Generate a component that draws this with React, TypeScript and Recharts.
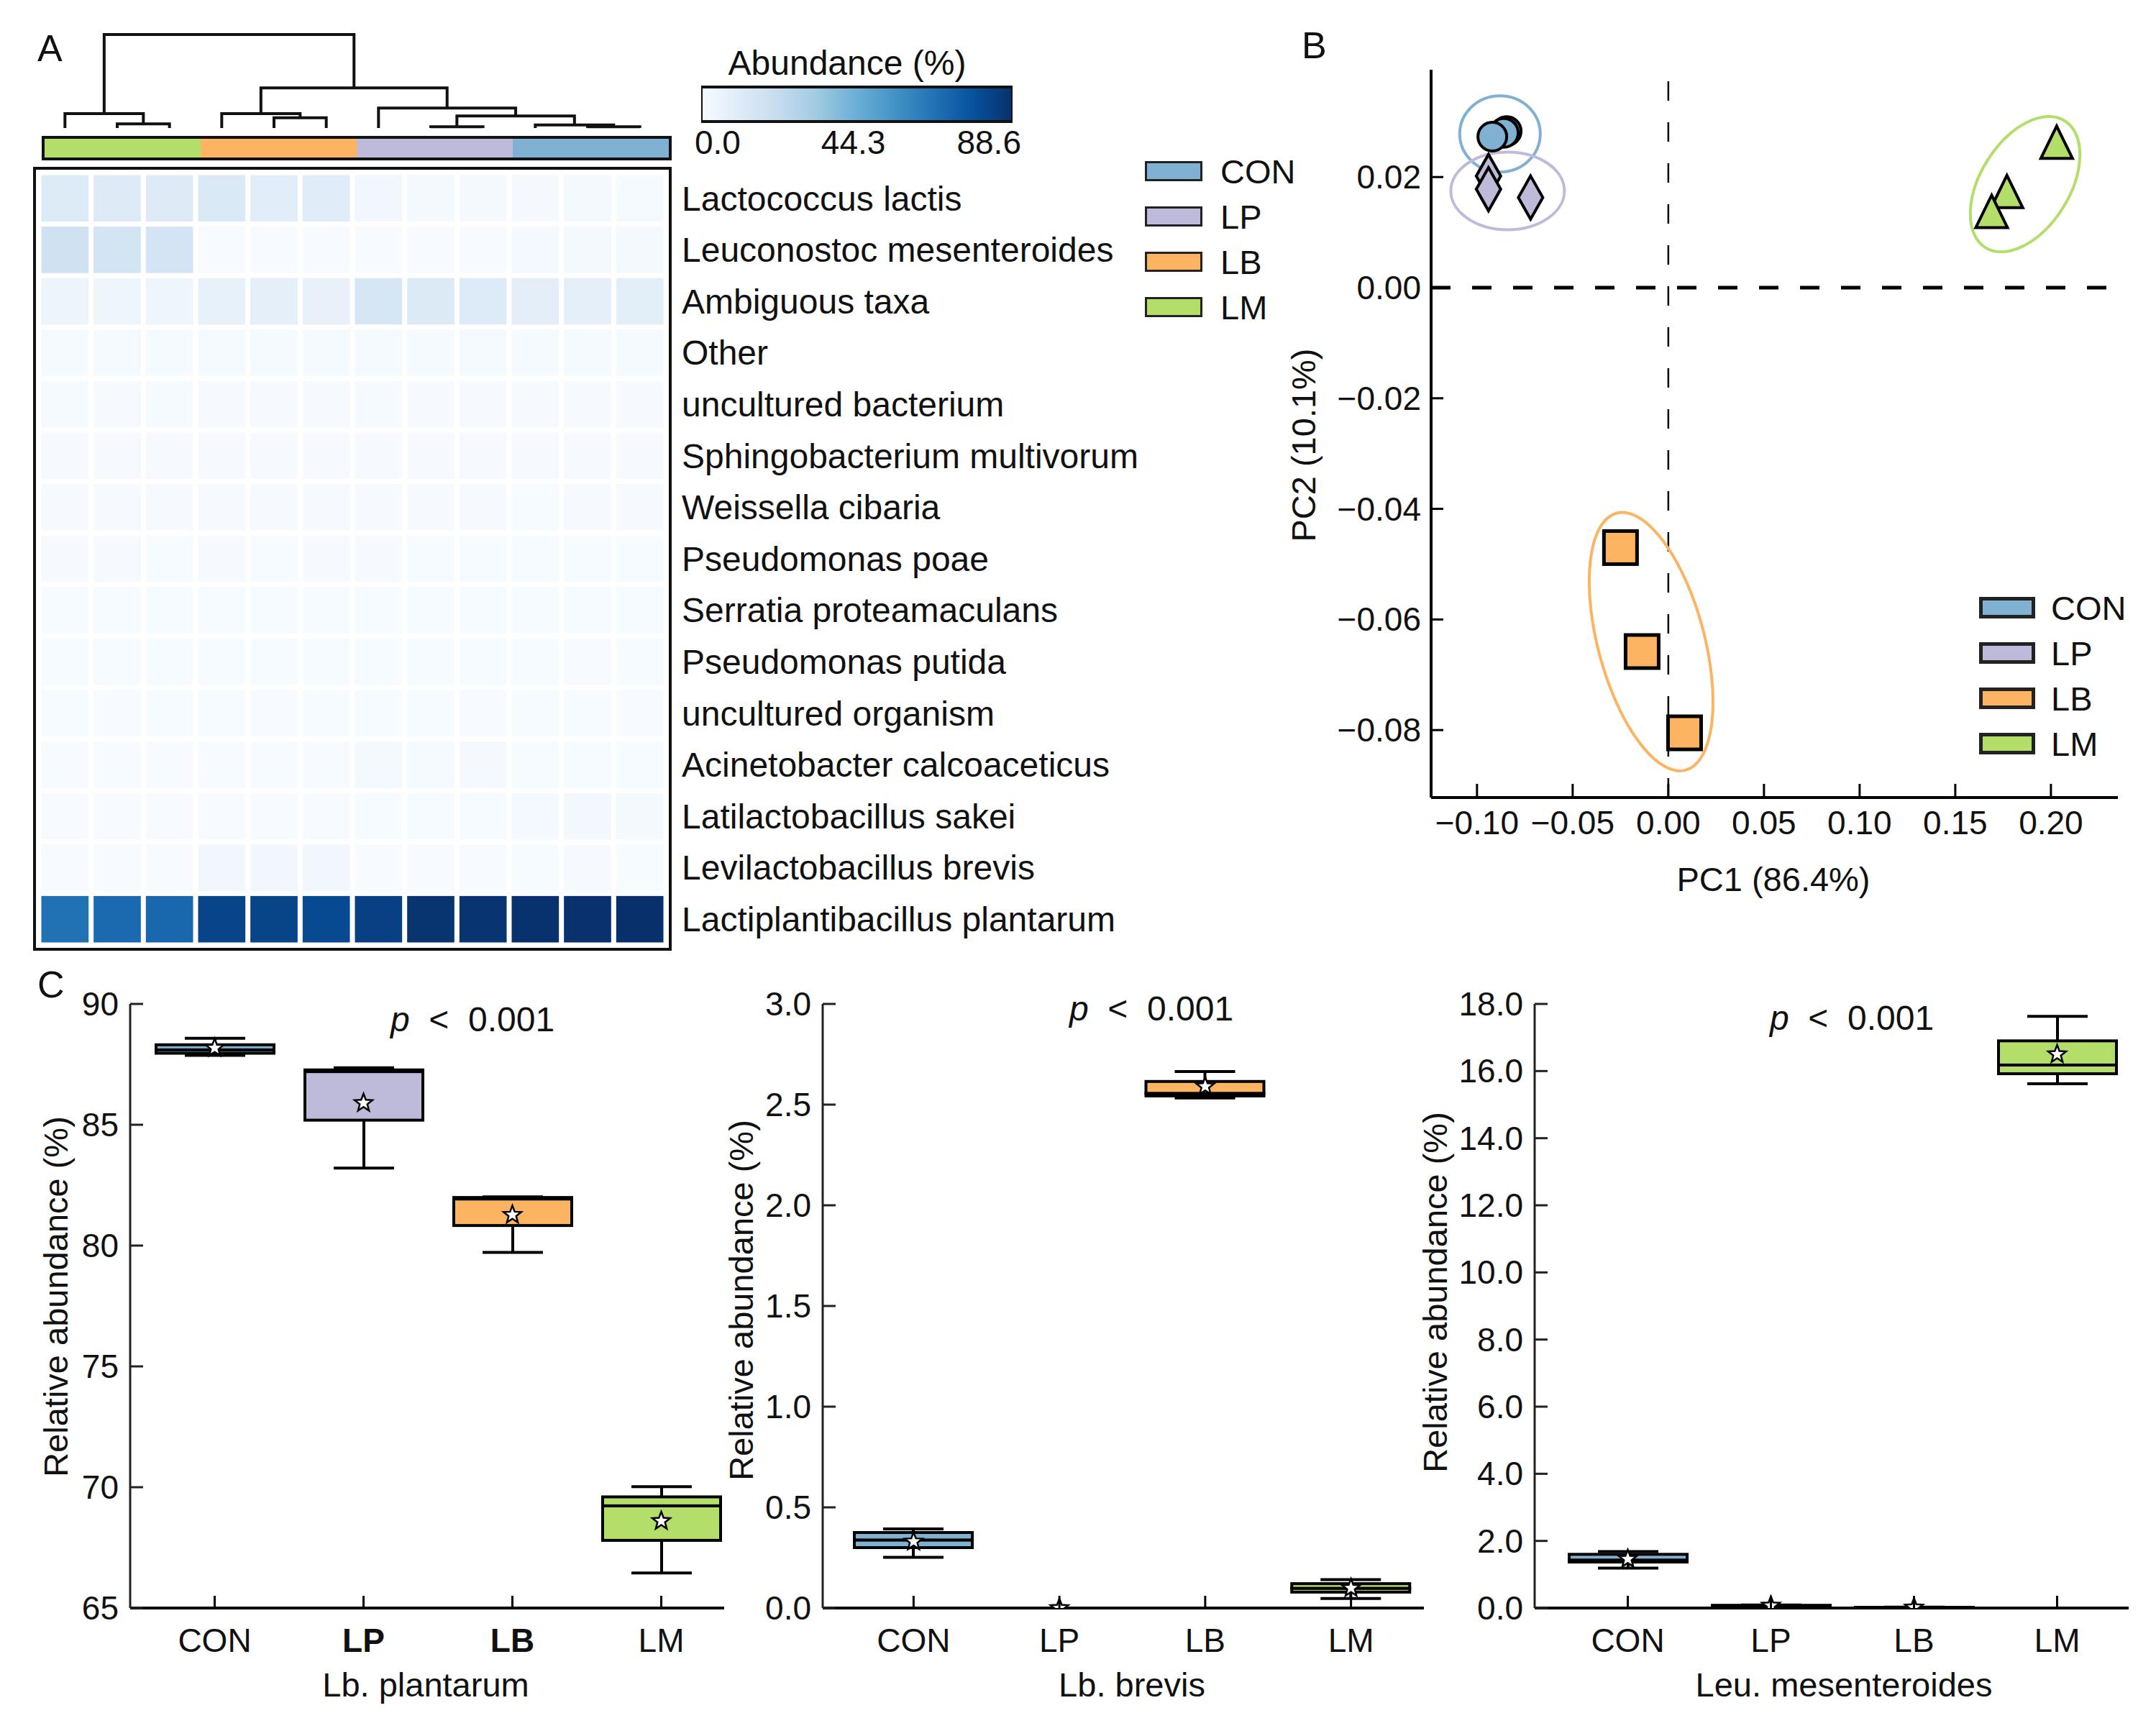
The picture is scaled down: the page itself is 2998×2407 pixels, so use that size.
import React from "react";
import {
  BarChart,
  Bar,
  ComposedChart,
  Line,
  Scatter,
  ScatterChart,
  XAxis,
  YAxis,
  ReferenceLine,
} from "recharts";

const FONT = '"Liberation Sans", Arial, Helvetica, sans-serif';
const INK = "#111";

// ---------- groups ----------
const groups = ["CON", "LP", "LB", "LM"];
const groupColor: Record<string, string> = {
  CON: "#80b1d3",
  LP: "#bebada",
  LB: "#fdb462",
  LM: "#b3de69",
};

// ---------- panel A: heatmap ----------
const taxa = [
  "Lactococcus lactis",
  "Leuconostoc mesenteroides",
  "Ambiguous taxa",
  "Other",
  "uncultured bacterium",
  "Sphingobacterium multivorum",
  "Weissella cibaria",
  "Pseudomonas poae",
  "Serratia proteamaculans",
  "Pseudomonas putida",
  "uncultured organism",
  "Acinetobacter calcoaceticus",
  "Latilactobacillus sakei",
  "Levilactobacillus brevis",
  "Lactiplantibacillus plantarum",
];
const sampleGroups = ["LM", "LM", "LM", "LB", "LB", "LB", "LP", "LP", "LP", "CON", "CON", "CON"];

const lactococcusLactis = [11.4, 10.9, 11.0, 12.8, 9.6, 10.4, 2.6, 1.3, 1.2, 1.1, 1.2, 1.0];
const leuconostocMesenteroides = [17.63, 16.18, 15.62, 0.02, 0.01, 0.02, 0.06, 0.05, 0.08, 1.68, 1.43, 1.19];
const ambiguousTaxa = [4.6, 3.8, 4.1, 7.2, 8.3, 6.6, 14.6, 11.8, 11.6, 9.0, 8.6, 9.2];
const otherTaxa = [1.0, 0.9, 1.0, 0.9, 0.8, 0.9, 1.0, 0.9, 0.8, 0.8, 0.7, 0.8];
const unculturedBacterium = [0.7, 0.6, 0.7, 0.6, 0.6, 0.6, 0.7, 0.6, 0.6, 0.5, 0.5, 0.6];
const sphingobacterium = [0.5, 0.5, 0.4, 0.5, 0.4, 0.5, 0.5, 0.4, 0.4, 0.4, 0.4, 0.5];
const weissella = [0.5, 0.4, 0.4, 0.4, 0.4, 0.4, 0.4, 0.4, 0.4, 0.3, 0.4, 0.4];
const pseudomonasPoae = [0.4, 0.4, 0.3, 0.4, 0.3, 0.4, 0.4, 0.3, 0.3, 0.3, 0.3, 0.3];
const serratia = [0.3, 0.3, 0.3, 0.3, 0.3, 0.3, 0.3, 0.3, 0.3, 0.3, 0.3, 0.3];
const pseudomonasPutida = [0.3, 0.3, 0.3, 0.3, 0.3, 0.3, 0.3, 0.3, 0.3, 0.3, 0.2, 0.3];
const unculturedOrganism = [0.3, 0.2, 0.3, 0.3, 0.2, 0.3, 0.3, 0.3, 0.2, 0.3, 0.3, 0.2];
const acinetobacter = [0.2, 0.2, 0.2, 0.2, 0.2, 0.2, 1.3, 0.9, 1.1, 0.3, 0.3, 0.3];
const latilactobacillus = [0.2, 0.2, 0.2, 0.2, 0.2, 0.2, 0.3, 0.3, 0.3, 1.6, 1.9, 1.4];
const levilactobacillus = [0.047, 0.098, 0.141, 2.556, 2.664, 2.533, 0, 0, 0, 0.338, 0.393, 0.252];
const lactiplantibacillus = [66.45, 69.23, 70.02, 81.93, 82.02, 79.72, 83.21, 87.36, 87.2, 87.87, 88.1, 88.58];

const abundanceRows = [
  lactococcusLactis,
  leuconostocMesenteroides,
  ambiguousTaxa,
  otherTaxa,
  unculturedBacterium,
  sphingobacterium,
  weissella,
  pseudomonasPoae,
  serratia,
  pseudomonasPutida,
  unculturedOrganism,
  acinetobacter,
  latilactobacillus,
  levilactobacillus,
  lactiplantibacillus,
];

const abundanceTicks = [0, 44.3, 88.6];
const colorKeySpan = [-5.4, 96.3];

// dendrogram merges: [left node, right node, height]
const dendroMerges: [number, number, number][] = [
  [1, 2, 17],
  [0, 12, 60],
  [4, 5, 43],
  [3, 14, 60],
  [7, 8, 5],
  [10, 11, 5],
  [9, 17, 13],
  [16, 18, 50],
  [6, 19, 83],
  [15, 20, 167],
  [13, 21, 390],
];

// ---------- panel B: PCA ----------
const conPC1 = [-0.0845, -0.086, -0.092];
const conPC2 = [0.0283, 0.028, 0.0273];
const lpPC1 = [-0.094, -0.094, -0.072];
const lpPC2 = [0.0202, 0.0178, 0.0163];
const lbPC1 = [-0.025, -0.0137, 0.0085];
const lbPC2 = [-0.047, -0.0658, -0.0805];
const lmPC1 = [0.203, 0.177, 0.169];
const lmPC2 = [0.0257, 0.0168, 0.0132];

const ellipseGroups = ["CON", "LP", "LM", "LB"];
const ellipsePC1 = [-0.088, -0.084, 0.1865, -0.009];
const ellipsePC2 = [0.0278, 0.0175, 0.0187, -0.064];

const pcaXTicks = [-0.1, -0.05, 0, 0.05, 0.1, 0.15, 0.2];
const pcaYTicks = [-0.08, -0.06, -0.04, -0.02, 0, 0.02];

// ---------- panel C: box plots [min, q1, median, q3, max] ----------
const plantarumBox = [
  [87.87, 87.96, 88.1, 88.31, 88.58],
  [83.21, 85.19, 87.2, 87.27, 87.36],
  [79.72, 80.83, 81.93, 81.99, 82.02],
  [66.45, 67.8, 69.23, 69.6, 70.02],
];
const plantarumMean = [88.18, 85.9, 81.27, 68.6];
const plantarumTicks = [65, 70, 75, 80, 85, 90];

const brevisBox = [
  [0.252, 0.3, 0.338, 0.375, 0.393],
  [0, 0, 0, 0, 0],
  [2.533, 2.543, 2.556, 2.615, 2.664],
  [0.047, 0.079, 0.098, 0.121, 0.141],
];
const brevisMean = [0.33, 0, 2.59, 0.099];
const brevisTicks = [0, 0.5, 1, 1.5, 2, 2.5, 3];

const mesenteroidesBox = [
  [1.19, 1.37, 1.43, 1.6, 1.68],
  [0.03, 0.05, 0.07, 0.08, 0.09],
  [0.005, 0.01, 0.015, 0.02, 0.025],
  [15.62, 15.92, 16.18, 16.9, 17.63],
];
const mesenteroidesMean = [1.46, 0.07, 0.015, 16.5];
const mesenteroidesTicks = [0, 2, 4, 6, 8, 10, 12, 14, 16, 18];

// ---------- helpers ----------
const blues = ["#f7fbff", "#deebf7", "#c6dbef", "#9ecae1", "#6baed6", "#4292c6", "#2171b5", "#08519c", "#08306b"];

function hexToRgb(h: string) {
  return [1, 3, 5].map((i) => parseInt(h.slice(i, i + 2), 16));
}

function bluesColor(v: number) {
  const t = Math.max(0, Math.min(1, v / abundanceTicks[2]));
  const pos = t * (blues.length - 1);
  const i = Math.min(Math.floor(pos), blues.length - 2);
  const f = pos - i;
  const a = hexToRgb(blues[i]);
  const b = hexToRgb(blues[i + 1]);
  const c = a.map((x, k) => Math.round(x + (b[k] - x) * f));
  return `rgb(${c[0]},${c[1]},${c[2]})`;
}

function fmtSigned(v: number, d: number) {
  const s = Math.abs(v).toFixed(d);
  return v < 0 ? "\u2212" + s : s;
}

function Txt({
  x,
  y,
  size = 46,
  anchor = "start",
  rotate = 0,
  weight = 400,
  children,
}: {
  x: number;
  y: number;
  size?: number;
  anchor?: "start" | "middle" | "end";
  rotate?: number;
  weight?: number;
  children: React.ReactNode;
}) {
  const tx = anchor === "start" ? "0" : anchor === "middle" ? "-50%" : "-100%";
  return (
    <div
      style={{
        position: "absolute",
        left: x,
        top: y,
        fontSize: size,
        fontWeight: weight,
        lineHeight: 1,
        whiteSpace: "nowrap",
        transform: `translate(${tx}, -50%) rotate(${rotate}deg)`,
      }}
    >
      {children}
    </div>
  );
}

function LegendBoxes({ x, y0, step, textX, boxW, boxH, border }: any) {
  return (
    <>
      {groups.map((g, i) => (
        <React.Fragment key={g}>
          <div
            style={{
              position: "absolute",
              left: x,
              top: y0 + i * step - boxH / 2,
              width: boxW,
              height: boxH,
              boxSizing: "border-box",
              border: `${border}px solid #222`,
              background: groupColor[g],
            }}
          />
          <Txt x={textX} y={y0 + i * step} size={47}>
            {g}
          </Txt>
        </React.Fragment>
      ))}
    </>
  );
}

// ---------- panel A ----------
const HEAT_W = 872;
const HEAT_H = 1074;
const CELL_W = HEAT_W / sampleGroups.length - 7;
const CELL_H = HEAT_H / taxa.length - 7;

function HeatCell(p: any) {
  return (
    <rect
      x={p.cx - CELL_W / 2}
      y={p.cy - CELL_H / 2}
      width={CELL_W}
      height={CELL_H}
      fill={bluesColor(p.payload.value)}
    />
  );
}

function TaxonTick(p: any) {
  return (
    <text x={p.x + 22} y={p.y} dy="0.35em" textAnchor="start" fontSize={48} fontFamily={FONT} fill={INK}>
      {taxa[p.payload.value]}
    </text>
  );
}

function ColorKeyTick(p: any) {
  return (
    <text x={p.x} y={p.y + 29} dy="0.35em" textAnchor="middle" fontSize={46} fontFamily={FONT} fill={INK}>
      {p.payload.value.toFixed(1)}
    </text>
  );
}

function buildDendrogram() {
  const xs = sampleGroups.map((_, i) => i);
  const hs = sampleGroups.map(() => 0);
  return dendroMerges.map(([a, b, h]) => {
    const seg = [
      { x: xs[a], y: hs[a] },
      { x: xs[a], y: h },
      { x: xs[b], y: h },
      { x: xs[b], y: hs[b] },
    ];
    xs.push((xs[a] + xs[b]) / 2);
    hs.push(h);
    return seg;
  });
}

function HeatmapPanel() {
  const cells = abundanceRows.flatMap((row, r) => row.map((value, c) => ({ col: c, row: r, value })));
  const links = buildDendrogram();
  const stripOrder = ["LM", "LB", "LP", "CON"];
  const stripRow: Record<string, any> = { name: "groups" };
  stripOrder.forEach((g) => (stripRow[g] = sampleGroups.filter((s) => s === g).length));

  return (
    <>
      {/* dendrogram */}
      <div style={{ position: "absolute", left: 54, top: 40 }}>
        <ComposedChart width={HEAT_W} height={140} margin={{ top: 8, right: 0, bottom: 2, left: 0 }}>
          <XAxis type="number" dataKey="x" domain={[-0.5, 11.5]} hide allowDataOverflow />
          <YAxis type="number" domain={[0, 390]} hide />
          {links.map((d, i) => (
            <Line
              key={i}
              data={d}
              dataKey="y"
              type="linear"
              stroke={INK}
              strokeWidth={4}
              dot={false}
              activeDot={false}
              isAnimationActive={false}
            />
          ))}
        </ComposedChart>
      </div>

      {/* group colour strip */}
      <div
        style={{
          position: "absolute",
          left: 58,
          top: 189,
          width: 876,
          height: 34,
          boxSizing: "border-box",
          border: "4px solid #111",
        }}
      >
        <BarChart
          layout="vertical"
          width={868}
          height={26}
          data={[stripRow]}
          margin={{ top: 0, right: 0, bottom: 0, left: 0 }}
          barCategoryGap={0}
        >
          <XAxis type="number" domain={[0, sampleGroups.length]} hide />
          <YAxis type="category" dataKey="name" hide />
          {stripOrder.map((g) => (
            <Bar key={g} dataKey={g} stackId="s" fill={groupColor[g]} isAnimationActive={false} />
          ))}
        </BarChart>
      </div>

      {/* heatmap border */}
      <div
        style={{
          position: "absolute",
          left: 46,
          top: 232,
          width: 888,
          height: 1090,
          boxSizing: "border-box",
          border: "4px solid #111",
        }}
      />
      <div style={{ position: "absolute", left: 50, top: 236 }}>
        <ScatterChart width={1560} height={1082} margin={{ top: 4, right: 0, bottom: 4, left: 4 }}>
          <XAxis type="number" dataKey="col" domain={[-0.5, 11.5]} hide />
          <YAxis
            type="number"
            dataKey="row"
            orientation="right"
            domain={[-0.5, 14.5]}
            reversed
            ticks={taxa.map((_, i) => i)}
            interval={0}
            width={684}
            axisLine={false}
            tickLine={false}
            tickSize={0}
            tickMargin={0}
            tick={<TaxonTick />}
          />
          <Scatter data={cells} shape={<HeatCell />} isAnimationActive={false} />
        </ScatterChart>
      </div>

      {/* abundance colour key */}
      <Txt x={1178} y={88} size={48} anchor="middle">
        Abundance (%)
      </Txt>
      <div style={{ position: "absolute", left: 937, top: 115 }}>
        <BarChart
          layout="vertical"
          width={509}
          height={112}
          data={[{ name: "key", span: colorKeySpan }]}
          margin={{ top: 6, right: 38, bottom: 0, left: 38 }}
          barCategoryGap={0}
        >
          <defs>
            <linearGradient id="bluesGrad" x1="0" y1="0" x2="1" y2="0">
              {blues.map((c, i) => (
                <stop key={c} offset={`${(i / (blues.length - 1)) * 100}%`} stopColor={c} />
              ))}
            </linearGradient>
          </defs>
          <XAxis
            type="number"
            domain={colorKeySpan}
            ticks={abundanceTicks}
            interval={0}
            height={58}
            axisLine={false}
            tickLine={false}
            tickSize={0}
            tickMargin={0}
            allowDataOverflow
            tick={<ColorKeyTick />}
          />
          <YAxis type="category" dataKey="name" hide />
          <Bar dataKey="span" fill="url(#bluesGrad)" stroke="#111" strokeWidth={4} isAnimationActive={false} />
        </BarChart>
      </div>

      <LegendBoxes x={1592} y0={238} step={63} textX={1697} boxW={80} boxH={28} border={3} />
    </>
  );
}

// ---------- panel B ----------
const PCA_ELLIPSE: Record<string, { rx: number; ry: number; rot: number }> = {
  CON: { rx: 56, ry: 53, rot: 0 },
  LP: { rx: 79, ry: 54, rot: 0 },
  LM: { rx: 104, ry: 62, rot: -58 },
  LB: { rx: 185, ry: 74, rot: 75 },
};

function EllipseShape(p: any) {
  const e = PCA_ELLIPSE[p.payload.group];
  return (
    <ellipse
      cx={p.cx}
      cy={p.cy}
      rx={e.rx}
      ry={e.ry}
      transform={`rotate(${e.rot} ${p.cx} ${p.cy})`}
      fill="none"
      stroke={groupColor[p.payload.group]}
      strokeWidth={4}
    />
  );
}

function CircleMark(p: any) {
  return <circle cx={p.cx} cy={p.cy} r={20} fill={groupColor.CON} stroke="#000" strokeWidth={4} />;
}
function DiamondMark(p: any) {
  const { cx, cy } = p;
  return (
    <path
      d={`M${cx},${cy - 30} L${cx + 17},${cy} L${cx},${cy + 30} L${cx - 17},${cy} Z`}
      fill={groupColor.LP}
      stroke="#000"
      strokeWidth={4}
      strokeLinejoin="miter"
    />
  );
}
function TriangleMark(p: any) {
  const { cx, cy } = p;
  return (
    <path
      d={`M${cx},${cy - 27} L${cx + 22},${cy + 18} L${cx - 22},${cy + 18} Z`}
      fill={groupColor.LM}
      stroke="#000"
      strokeWidth={4}
    />
  );
}
function SquareMark(p: any) {
  return (
    <rect x={p.cx - 23} y={p.cy - 23} width={46} height={46} fill={groupColor.LB} stroke="#000" strokeWidth={5} />
  );
}

function PcaXTick(p: any) {
  return (
    <g>
      <line x1={p.x} x2={p.x} y1={p.y} y2={p.y - 19} stroke="#000" strokeWidth={3} />
      <text x={p.x} y={p.y + 35} dy="0.35em" textAnchor="middle" fontSize={46} fontFamily={FONT} fill={INK}>
        {fmtSigned(p.payload.value, 2)}
      </text>
    </g>
  );
}
function PcaYTick(p: any) {
  return (
    <g>
      <line x1={p.x} x2={p.x + 17} y1={p.y} y2={p.y} stroke="#000" strokeWidth={3} />
      <text x={p.x - 14} y={p.y} dy="0.35em" textAnchor="end" fontSize={46} fontFamily={FONT} fill={INK}>
        {fmtSigned(p.payload.value, 2)}
      </text>
    </g>
  );
}

const toPoints = (xs: number[], ys: number[]) => xs.map((x, i) => ({ x, y: ys[i] }));

function PcaPanel() {
  const ellipses = ellipseGroups.map((g, i) => ({ group: g, x: ellipsePC1[i], y: ellipsePC2[i] }));
  return (
    <>
      <div style={{ position: "absolute", left: 1800, top: 60 }}>
        <ScatterChart width={1180} height={1160} margin={{ top: 37, right: 35, bottom: 31, left: 40 }}>
          <XAxis
            type="number"
            dataKey="x"
            domain={[-0.124, 0.235]}
            ticks={pcaXTicks}
            interval={0}
            allowDataOverflow
            height={80}
            axisLine={{ stroke: "#000", strokeWidth: 4 }}
            tickLine={false}
            tickSize={0}
            tickMargin={0}
            tick={<PcaXTick />}
          />
          <YAxis
            type="number"
            dataKey="y"
            domain={[-0.0922, 0.0394]}
            ticks={pcaYTicks}
            interval={0}
            allowDataOverflow
            width={150}
            axisLine={{ stroke: "#000", strokeWidth: 4 }}
            tickLine={false}
            tickSize={0}
            tickMargin={0}
            tick={<PcaYTick />}
          />
          <ReferenceLine x={0} stroke="#000" strokeWidth={2.5} strokeDasharray="27 30" />
          <ReferenceLine y={0} stroke="#000" strokeWidth={5} strokeDasharray="27 30" />
          <Scatter data={ellipses} shape={<EllipseShape />} isAnimationActive={false} />
          <Scatter data={toPoints(lpPC1, lpPC2)} shape={<DiamondMark />} isAnimationActive={false} />
          <Scatter data={toPoints(conPC1, conPC2)} shape={<CircleMark />} isAnimationActive={false} />
          <Scatter data={toPoints(lmPC1, lmPC2)} shape={<TriangleMark />} isAnimationActive={false} />
          <Scatter data={toPoints(lbPC1, lbPC2)} shape={<SquareMark />} isAnimationActive={false} />
        </ScatterChart>
      </div>
      <Txt x={2466} y={1222} size={47} anchor="middle">
        PC1 (86.4%)
      </Txt>
      <Txt x={1812} y={619} size={47} anchor="middle" rotate={-90}>
        PC2 (10.1%)
      </Txt>
      <LegendBoxes x={2752} y0={845} step={63} textX={2852} boxW={78} boxH={30} border={5} />
    </>
  );
}

// ---------- panel C ----------
const CAP = 84;

function WhiskerShape(upper: boolean) {
  return (p: any) => {
    const cx = p.x + p.width / 2;
    const h = Math.max(p.height || 0, 0);
    const capY = upper ? p.y : p.y + h;
    return (
      <g>
        <line x1={cx} x2={cx} y1={p.y} y2={p.y + h} stroke="#000" strokeWidth={4} />
        <line x1={cx - CAP / 2} x2={cx + CAP / 2} y1={capY} y2={capY} stroke="#000" strokeWidth={4} />
      </g>
    );
  };
}
const LowerWhisker = WhiskerShape(false);
const UpperWhisker = WhiskerShape(true);

function BoxPart(p: any) {
  return (
    <rect
      x={p.x}
      y={p.y}
      width={p.width}
      height={Math.max(p.height || 0, 0)}
      fill={groupColor[p.payload.group]}
      stroke="#000"
      strokeWidth={4}
    />
  );
}

function StarMark(p: any) {
  const pts: string[] = [];
  for (let k = 0; k < 10; k++) {
    const r = k % 2 === 0 ? 13 : 5.5;
    const a = -Math.PI / 2 + (k * Math.PI) / 5;
    pts.push(`${p.cx + r * Math.cos(a)},${p.cy + r * Math.sin(a)}`);
  }
  return <polygon points={pts.join(" ")} fill="#fff" stroke="#000" strokeWidth={2.5} />;
}

type BoxCfg = {
  title: string;
  box: number[][];
  mean: number[];
  ticks: number[];
  digits: number;
  left: number;
  width: number;
  yAxisWidth: number;
  right: number;
  padLeft: number;
  padRight: number;
  bold: string[];
  pX: number;
  pY: number;
  titleX: number;
  yLabelX: number;
  yLabelY: number;
};

const boxPanels: BoxCfg[] = [
  {
    title: "Lb. plantarum",
    box: plantarumBox,
    mean: plantarumMean,
    ticks: plantarumTicks,
    digits: 0,
    left: 20,
    width: 1000,
    yAxisWidth: 150,
    right: 13,
    padLeft: 14,
    padRight: -16,
    bold: ["LP", "LB"],
    pX: 657,
    pY: 1418,
    titleX: 592,
    yLabelX: 77,
    yLabelY: 1803,
  },
  {
    title: "Lb. brevis",
    box: brevisBox,
    mean: brevisMean,
    ticks: brevisTicks,
    digits: 1,
    left: 1030,
    width: 960,
    yAxisWidth: 103,
    right: 10,
    padLeft: 25,
    padRight: 0,
    bold: [],
    pX: 1601,
    pY: 1403,
    titleX: 1574,
    yLabelX: 1030,
    yLabelY: 1808,
  },
  {
    title: "Leu. mesenteroides",
    box: mesenteroidesBox,
    mean: mesenteroidesMean,
    ticks: mesenteroidesTicks,
    digits: 1,
    left: 1960,
    width: 1030,
    yAxisWidth: 163,
    right: 30,
    padLeft: 30,
    padRight: 0,
    bold: [],
    pX: 2575,
    pY: 1416,
    titleX: 2564,
    yLabelX: 1995,
    yLabelY: 1797,
  },
];

function BoxPanel({ cfg }: { cfg: BoxCfg }) {
  const data = groups.map((g, i) => {
    const b = cfg.box[i];
    return {
      group: g,
      base: b[0],
      lw: b[1] - b[0],
      lb: b[2] - b[1],
      ub: b[3] - b[2],
      uw: b[4] - b[3],
      mean: cfg.mean[i],
    };
  });
  const domain = [cfg.ticks[0], cfg.ticks[cfg.ticks.length - 1]];

  const xTick = (p: any) => (
    <g>
      <line x1={p.x} x2={p.x} y1={p.y} y2={p.y - 17} stroke="#000" strokeWidth={3} />
      <text
        x={p.x}
        y={p.y + 45}
        dy="0.35em"
        textAnchor="middle"
        fontSize={46}
        fontWeight={cfg.bold.includes(p.payload.value) ? 700 : 400}
        fontFamily={FONT}
        fill={INK}
      >
        {p.payload.value}
      </text>
    </g>
  );
  const yTick = (p: any) => (
    <g>
      <line x1={p.x} x2={p.x + 18} y1={p.y} y2={p.y} stroke="#222" strokeWidth={3} />
      <text x={p.x - 16} y={p.y} dy="0.35em" textAnchor="end" fontSize={46} fontFamily={FONT} fill={INK}>
        {p.payload.value.toFixed(cfg.digits)}
      </text>
    </g>
  );

  return (
    <>
      <div style={{ position: "absolute", left: cfg.left, top: 1370 }}>
        <ComposedChart
          width={cfg.width}
          height={1030}
          data={data}
          margin={{ top: 26, right: cfg.right, bottom: 64, left: 11 }}
        >
          <XAxis
            dataKey="group"
            type="category"
            padding={{ left: cfg.padLeft, right: cfg.padRight }}
            height={100}
            interval={0}
            axisLine={{ stroke: "#000", strokeWidth: 4 }}
            tickLine={false}
            tickSize={0}
            tickMargin={0}
            tick={xTick}
          />
          <YAxis
            type="number"
            domain={domain}
            ticks={cfg.ticks}
            interval={0}
            allowDataOverflow
            width={cfg.yAxisWidth}
            axisLine={{ stroke: "#222", strokeWidth: 3 }}
            tickLine={false}
            tickSize={0}
            tickMargin={0}
            tick={yTick}
          />
          <Bar dataKey="base" stackId="b" fill="transparent" barSize={164} isAnimationActive={false} />
          <Bar dataKey="lw" stackId="b" barSize={164} shape={LowerWhisker} isAnimationActive={false} />
          <Bar dataKey="lb" stackId="b" barSize={164} shape={BoxPart} isAnimationActive={false} />
          <Bar dataKey="ub" stackId="b" barSize={164} shape={BoxPart} isAnimationActive={false} />
          <Bar dataKey="uw" stackId="b" barSize={164} shape={UpperWhisker} isAnimationActive={false} />
          <Scatter dataKey="mean" shape={StarMark} isAnimationActive={false} />
        </ComposedChart>
      </div>
      <Txt x={cfg.pX} y={cfg.pY} size={48} anchor="middle">
        <i>p</i>
        {"\u00a0\u00a0<\u00a0\u00a0"}0.001
      </Txt>
      <Txt x={cfg.titleX} y={2342} size={47} anchor="middle">
        {cfg.title}
      </Txt>
      <Txt x={cfg.yLabelX} y={cfg.yLabelY} size={47} anchor="middle" rotate={-90}>
        Relative abundance (%)
      </Txt>
    </>
  );
}

export default function App() {
  return (
    <div
      style={{
        position: "absolute",
        left: 0,
        top: 0,
        width: 2998,
        height: 2407,
        background: "#fff",
        fontFamily: FONT,
        color: INK,
        overflow: "hidden",
      }}
    >
      <HeatmapPanel />
      <PcaPanel />
      {boxPanels.map((cfg) => (
        <BoxPanel key={cfg.title} cfg={cfg} />
      ))}
      <Txt x={52} y={67} size={52}>
        A
      </Txt>
      <Txt x={1810} y={63} size={52}>
        B
      </Txt>
      <Txt x={52} y={1369} size={52}>
        C
      </Txt>
    </div>
  );
}
